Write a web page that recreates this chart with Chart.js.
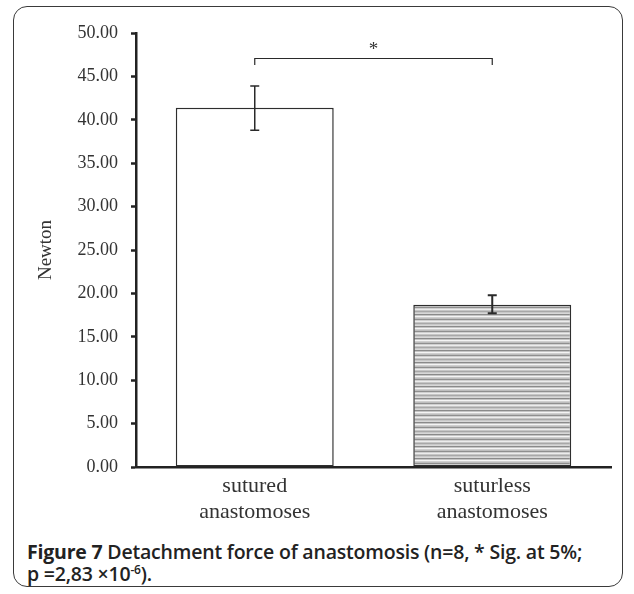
<!DOCTYPE html>
<html><head><meta charset="utf-8">
<script src="https://cdn.jsdelivr.net/npm/chart.js@4/dist/chart.umd.min.js"></script>
<style>
html,body{margin:0;padding:0;background:#fff;width:634px;height:594px;overflow:hidden;}
#frame{position:absolute;left:13px;top:6px;width:608px;height:579px;border:1.5px solid #3a3a3a;border-radius:14px;}
#wrap{position:absolute;left:0;top:0;width:634px;height:530px;}
#cap{position:absolute;left:27px;top:541px;font-family:'Open Sans','Liberation Sans',sans-serif;font-size:19.5px;line-height:22px;color:#222;font-weight:600;white-space:nowrap;letter-spacing:-0.2px;}
#cap b{font-weight:700;}
#cap sup{font-size:12px;line-height:0;}
</style></head><body>
<div id="frame"></div>
<div id="wrap"><canvas id="c"></canvas></div>
<div id="cap"><b>Figure 7</b> Detachment force of anastomosis (n=8, * Sig. at 5%;<br>p =2,83 ×10<sup>-6</sup>).</div>
<script>
// ---- data ----
const categories = [["sutured","anastomoses"],["suturless","anastomoses"]];
const meanForce = [41.4, 18.7];
const errHigh = [43.9, 19.8];
const errLow = [38.8, 17.7];
const yTicks = [0,5,10,15,20,25,30,35,40,45,50];
const sigLine = 47.1;     // bracket level (Newton)
const sigLeg = 46.3;      // bracket leg end (Newton)
const sigMarkLevel = 48.4;
const sigMark = "*";

// stripe pattern for second bar
function makeStripes(){
  const rows = ['#c8c8c8','#d8d8d8','#8a8a8a','#c4c4c4','#f4f4f4','#cfcfcf','#bdbdbd','#8f8f8f','#d0d0d0','#ececec','#c6c6c6','#a8a8a8'];
  const cv = document.createElement('canvas');
  cv.width = 8; cv.height = rows.length;
  const g = cv.getContext('2d');
  rows.forEach((c,i)=>{g.fillStyle=c; g.fillRect(0,i,8,1);});
  return g.createPattern(cv,'repeat');
}
const stripes = makeStripes();

const errorBars = {
  id:'errorBars',
  afterDatasetsDraw(chart){
    const ctx = chart.ctx, y = chart.scales.y;
    const meta = chart.getDatasetMeta(0);
    ctx.save();
    ctx.strokeStyle = '#2a2a2a';
    meta.data.forEach((el,i)=>{
      const x = el.x, t = y.getPixelForValue(errHigh[i]), b = y.getPixelForValue(errLow[i]);
      ctx.lineWidth = i===1 ? 2 : 1.5;
      ctx.beginPath();
      ctx.moveTo(x,t); ctx.lineTo(x,b);
      ctx.moveTo(x-4.5,t); ctx.lineTo(x+4.5,t);
      ctx.moveTo(x-4.5,b); ctx.lineTo(x+4.5,b);
      ctx.stroke();
    });
    // significance bracket
    const x1 = meta.data[0].x, x2 = meta.data[1].x;
    const yl = Math.round(y.getPixelForValue(sigLine))+0.5, yg = y.getPixelForValue(sigLeg);
    ctx.lineWidth = 1.2;
    ctx.beginPath();
    ctx.moveTo(x1,yg); ctx.lineTo(x1,yl); ctx.lineTo(x2,yl); ctx.lineTo(x2,yg);
    ctx.stroke();
    ctx.fillStyle = '#333';
    ctx.font = '19px "Liberation Serif", serif';
    ctx.textAlign = 'center'; ctx.textBaseline = 'middle';
    ctx.fillText(sigMark,(x1+x2)/2, y.getPixelForValue(sigMarkLevel)+3);
    ctx.restore();
  }
};

new Chart(document.getElementById('c'),{
  type:'bar',
  data:{labels:categories,datasets:[{
    data:meanForce,
    backgroundColor:['#ffffff',stripes],
    borderColor:'#2e2e2e',
    borderWidth:1.5,
    borderSkipped:false,
    barPercentage:0.665,
    categoryPercentage:1
  }]},
  options:{
    responsive:true, maintainAspectRatio:false, animation:false,
    layout:{padding:{left:33,right:23,top:33,bottom:0}},
    plugins:{legend:{display:false},tooltip:{enabled:false}},
    scales:{
      y:{
        min:0,max:50,
        afterBuildTicks(s){ s.ticks = yTicks.map(v=>({value:v})); },
        afterFit(s){ s.width = 103; },
        ticks:{callback:v=>v.toFixed(2),color:'#333',font:{family:'"Liberation Serif", serif',size:18},padding:13},
        grid:{drawOnChartArea:false,drawTicks:true,tickLength:5,tickWidth:2.5,color:'#222'},
        border:{display:true,color:'#222',width:2.5},
        title:{display:true,text:'Newton',color:'#333',font:{family:'"Liberation Serif", serif',size:19},padding:{top:2,bottom:0}}
      },
      x:{
        afterFit(s){ s.height = 63; },
        ticks:{color:'#333',font:{family:'"Liberation Serif", serif',size:22,lineHeight:1.15},padding:7},
        grid:{display:false,drawTicks:false},
        border:{display:true,color:'#222',width:2.5}
      }
    }
  },
  plugins:[errorBars]
});
</script>
</body></html>
